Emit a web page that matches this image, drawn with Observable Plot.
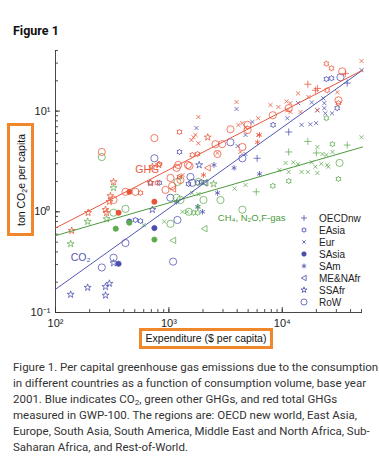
<!DOCTYPE html>
<html><head><meta charset="utf-8">
<script src="https://cdn.jsdelivr.net/npm/d3@7"></script>
<script src="https://cdn.jsdelivr.net/npm/@observablehq/plot@0.6"></script>
<style>
body{margin:0;background:#fff;}
#wrap{position:relative;width:379px;height:463px;overflow:hidden;font-family:Roboto,sans-serif;}
#title{position:absolute;left:13px;top:23px;font-weight:700;font-size:12.5px;color:#111;}
#chart{position:absolute;left:0;top:40px;}
sub{line-height:0;vertical-align:-0.3em;}
.box{position:absolute;border:3px solid #f0872b;box-sizing:border-box;background:#fff;}
#ylab{left:7px;top:123px;width:27px;height:113px;}
#ylab span{position:absolute;left:50%;top:50%;transform:translate(-50%,-50%) rotate(-90deg);white-space:nowrap;font:10.5px "Liberation Sans",Arial,sans-serif;color:#111;}
#xlab{left:139px;top:328px;width:134px;height:21px;font:10.5px "Liberation Sans",Arial,sans-serif;text-align:center;line-height:15px;color:#111;}
#legend{position:absolute;left:296px;top:212px;font:10px "Liberation Sans",Arial,sans-serif;color:#222;}
#legend .row{height:12px;display:flex;align-items:center;}
#legend svg{width:16px;height:12px;margin-right:7px;}
#caption{position:absolute;left:13px;top:359px;font-size:11.5px;line-height:16px;color:#333;white-space:nowrap;}
</style></head>
<body>
<div id="wrap">
  <div id="title">Figure 1</div>
  <div id="chart"></div>
  <div id="ylab" class="box"><span>ton CO<sub style="font-size:7px">2</sub>e per capita</span></div>
  <div id="xlab" class="box">Expenditure ($ per capita)</div>
  <div id="legend"></div>
  <div id="caption">Figure 1. Per capital greenhouse gas emissions due to the consumption<br>in different countries as a function of consumption volume, base year<br>2001. Blue indicates CO<sub style="font-size:8px">2</sub>, green other GHGs, and red total GHGs<br>measured in GWP-100. The regions are: OECD new world, East Asia,<br>Europe, South Asia, South America, Middle East and North Africa, Sub-<br>Saharan Africa, and Rest-of-World.</div>
</div>
<script>
// ---------- data ----------
const regions = ["OECDnw","EAsia","Eur","SAsia","SAm","ME&NAfr","SSAfr","RoW"];

// [region, expenditure $/capita, ton CO2e/capita]
const co2Points = [
 ["SSAfr",136,0.151],["SSAfr",192,0.177],["SSAfr",276,0.18],["SSAfr",299,0.194],["SSAfr",276,0.148],
 ["RoW",256,0.28],["RoW",325,0.35],["SSAfr",325,0.31],["SAsia",360,0.305],["RoW",414,0.49],
 ["SAsia",448,0.8],["EAsia",507,0.83],["EAsia",562,0.81],["SAsia",745,0.69],["RoW",1090,0.32],
 ["RoW",745,3.4],["EAsia",1240,3.93],["EAsia",1490,1.89],["EAsia",688,1.94],["EAsia",825,1.94],
 ["SSAfr",1850,2.92],["RoW",1550,2.22],["RoW",1610,1.94],["EAsia",1790,1.94],["EAsia",1940,1.98],
 ["RoW",1030,1.38],["SAm",1170,1.26],["SSAfr",715,1.05],["RoW",1190,0.83],["SAm",1980,1.0],
 ["SAm",1790,1.12],["SAm",2680,1.54],["ME&NAfr",2060,1.94],["SAm",2500,2.92],["SAm",3760,2.73],
 ["RoW",4450,3.4],["OECDnw",6000,3.4],["SAm",6300,2.38],["RoW",3490,4.9],["Eur",1750,6.8],
 ["Eur",3950,10.5],["Eur",4740,5.8],["Eur",4040,4.5],["Eur",5450,7.8],["EAsia",8300,7.3],
 ["OECDnw",11400,6.2],["Eur",14800,7.3],["Eur",17700,7.4],["Eur",19900,7.6],["Eur",11100,8.5],
 ["Eur",13800,12],["Eur",18200,12.2],["Eur",23000,13.4],["Eur",23500,12],["Eur",20400,10.2],
 ["Eur",23500,10.7],["Eur",24000,9.5],["Eur",27500,9.5],["EAsia",30500,10.7],["EAsia",24500,20.8],
 ["EAsia",27200,21.2],["RoW",32600,21.7],["OECDnw",37400,19],["Eur",50000,25.5],["Eur",4740,3.75]
];
const otherPoints = [
 ["SSAfr",136,0.48],["SSAfr",192,0.8],["SSAfr",282,0.85],["SSAfr",325,1.73],["RoW",256,3.5],
 ["RoW",325,0.98],["RoW",414,1.07],["SAsia",340,0.68],["SAsia",448,0.78],["SAsia",745,0.53],
 ["Eur",600,0.74],["Eur",910,0.8],["RoW",1033,0.76],["ME&NAfr",1090,0.52],["ME&NAfr",2060,0.68],
 ["Eur",1320,1.0],["Eur",1450,1.0],["EAsia",1650,0.98],["EAsia",1790,0.98],["RoW",1500,1.0],
 ["RoW",2020,1.31],["RoW",2850,1.31],["RoW",4450,1.05],["RoW",1170,1.38],["RoW",1820,1.98],
 ["ME&NAfr",2100,1.94],["SSAfr",2480,1.89],["EAsia",8250,1.81],["OECDnw",5900,1.58],["EAsia",11400,2.02],
 ["EAsia",31300,2.12],["RoW",32000,3.06],["Eur",9400,2.6],["Eur",10700,3.06],["Eur",11400,2.49],
 ["Eur",12500,3.1],["Eur",13800,2.98],["Eur",14800,2.49],["Eur",16800,2.49],["Eur",18200,3.1],
 ["Eur",19600,2.8],["Eur",20400,2.43],["Eur",22100,3.0],["Eur",24900,2.92],["Eur",25500,2.8],
 ["Eur",20400,4.4],["Eur",22600,3.75],["Eur",24500,3.67],["Eur",27700,3.93],["OECDnw",16800,5.0],
 ["OECDnw",11400,3.93],["OECDnw",20000,3.84],["OECDnw",37400,4.6],["EAsia",27700,4.7],["EAsia",24500,8.5],
 ["Eur",50000,5.5],["SAm",1820,1.12],["RoW",1265,1.31],["Eur",4740,1.85],["Eur",3800,1.7],
 ["Eur",1600,1.54],["Eur",1820,1.5],["Eur",1265,2.2],["RoW",1190,1.98]
];
const ghgPoints = [
 ["SSAfr",139,0.65],["SSAfr",194,0.98],["SSAfr",276,1.05],["SSAfr",282,0.98],["SSAfr",299,1.26],
 ["SSAfr",305,1.44],["SSAfr",325,1.98],["RoW",256,3.93],["RoW",325,1.31],["SAsia",360,0.98],
 ["RoW",414,1.58],["SAsia",448,1.58],["RoW",507,1.58],["EAsia",562,1.54],["SAsia",745,1.26],
 ["RoW",745,5.4],["EAsia",1240,6.2],["EAsia",825,2.98],["RoW",1170,2.73],["RoW",1520,2.85],
 ["SSAfr",688,1.94],["EAsia",790,1.94],["RoW",1033,2.17],["SSAfr",715,2.8],["SSAfr",815,2.92],
 ["RoW",1210,2.92],["RoW",1470,2.92],["EAsia",1610,3.67],["EAsia",1790,3.75],["EAsia",1240,2.22],
 ["RoW",1265,2.07],["Eur",1320,2.32],["ME&NAfr",1090,1.69],["ME&NAfr",2200,2.73],["RoW",1070,1.81],
 ["RoW",933,1.65],["RoW",2680,3.75],["Eur",1820,8.75],["Eur",1650,5.5],["Eur",1716,5.8],
 ["Eur",1580,5.16],["SSAfr",2200,5.5],["Eur",1820,4.8],["RoW",3490,6.6],["Eur",4100,7.27],
 ["Eur",4450,7.6],["Eur",4740,6.9],["Eur",3950,12.3],["RoW",2575,4.7],["RoW",2950,4.7],
 ["Eur",2680,3.84],["Eur",4280,3.93],["RoW",4450,4.4],["SAm",2020,2.32],["SAm",6050,4.9],
 ["SAm",6300,5.8],["RoW",4950,7.3],["RoW",4950,6.5],["Eur",6140,8.5],["Eur",6140,5.8],
 ["Eur",7870,11.5],["RoW",8250,9.1],["Eur",9250,11],["Eur",10900,12.5],["Eur",11800,12],
 ["RoW",11400,10.7],["Eur",11100,10.2],["Eur",11800,9.8],["Eur",14500,9.8],["Eur",13800,15],
 ["Eur",17000,13.8],["OECDnw",16800,18.5],["OECDnw",20400,16.8],["OECDnw",19600,16.1],["EAsia",24900,16.1],
 ["Eur",20400,10.2],["Eur",30600,15.4],["RoW",31300,12.8],["EAsia",31300,12],["RoW",33800,24.8],
 ["OECDnw",36000,23.7],["EAsia",24500,29.6],["EAsia",27200,26.6],["Eur",50000,31.4]
];

// fitted trend lines (end points)
const fitX = [100, 51000];
const co2Fit = [0.17, 25.5];
const otherFit = [0.58, 4.4];
const ghgFit = [0.69, 25.5];

// axes
const xDomain = [100, 51000];
const yDomain = [0.1, 40];
const xMajor = [100, 1000, 10000];
const xTickLabels = ["10²", "10³", "10⁴"];
const yMajor = [0.1, 1, 10];
const yTickLabels = ["10⁻¹", "10⁰", "10¹"];

// in-plot labels
const seriesLabels = [
  {gas: "GHG", text: "GHG", x: 505, y: 2.6},
  {gas: "CO2", text: "CO₂", x: 136, y: 0.35},
  {gas: "other", text: "CH₄, N₂O,F-gas", x: 2700, y: 0.87}
];

// ---------- styles ----------
const colors = {CO2: "#4a4eae", other: "#5cab4c", GHG: "#ea5236"};
const lineColors = {CO2: "#5257b3", other: "#4c9a3e", GHG: "#e8583f"};

const hexagram = {draw(ctx, size) {
  const R = Math.sqrt(size / Math.PI) * 1.25, r0 = R * 0.6;
  for (let i = 0; i < 12; i++) {
    const a = i * Math.PI / 6 - Math.PI / 2, rr = i % 2 ? r0 : R;
    const x = rr * Math.cos(a), y = rr * Math.sin(a);
    if (i) ctx.lineTo(x, y); else ctx.moveTo(x, y);
  }
  ctx.closePath();
}};
const triLeft = {draw(ctx, size) {
  const r = Math.sqrt(size / Math.PI) * 1.1;
  ctx.moveTo(-r, 0); ctx.lineTo(r * 0.8, -r); ctx.lineTo(r * 0.8, r); ctx.closePath();
}};
const regionStyle = {
  "OECDnw": {symbol: d3.symbolPlus, r: 2.4},
  "EAsia": {symbol: hexagram, r: 2.3},
  "Eur": {symbol: d3.symbolTimes, r: 2.0},
  "SAsia": {symbol: d3.symbolCircle, r: 2.6, filled: true},
  "SAm": {symbol: d3.symbolAsterisk, r: 2.7},
  "ME&NAfr": {symbol: triLeft, r: 2.9},
  "SSAfr": {symbol: d3.symbolStar, r: 2.2},
  "RoW": {symbol: d3.symbolCircle, r: 3.6}
};

function minorTicks(lo, hi) {
  const out = [];
  for (let k = Math.floor(Math.log10(lo)); k <= Math.ceil(Math.log10(hi)); k++)
    for (let m = 1; m <= 9; m++) { const v = m * Math.pow(10, k); if (v >= lo * 0.999 && v <= hi * 1.001) out.push(v); }
  return out;
}

const marks = [];
marks.push(Plot.axisX({ticks: minorTicks(...xDomain), tickSize: -3, tickFormat: () => "", label: null, strokeWidth: 0.8}));
marks.push(Plot.axisX({ticks: xMajor, tickSize: -5, tickFormat: () => "", label: null, strokeWidth: 0.8}));
marks.push(Plot.axisX({ticks: xMajor, tickSize: 0, tickPadding: 7, tickFormat: d => xTickLabels[xMajor.indexOf(d)], label: null, fontSize: 11}));
marks.push(Plot.axisY({ticks: minorTicks(...yDomain), tickSize: -3, tickFormat: () => "", label: null, strokeWidth: 0.8}));
marks.push(Plot.axisY({ticks: yMajor, tickSize: -5, tickFormat: () => "", label: null, strokeWidth: 0.8}));
marks.push(Plot.axisY({ticks: yMajor, tickSize: 0, tickPadding: 5, tickFormat: d => yTickLabels[yMajor.indexOf(d)], label: null, fontSize: 11}));
marks.push(Plot.ruleX([xDomain[0]], {stroke: "#333", strokeWidth: 0.9}));
marks.push(Plot.ruleY([yDomain[0]], {stroke: "#333", strokeWidth: 0.9}));

const gasSets = [["CO2", co2Points], ["other", otherPoints], ["GHG", ghgPoints]];
for (const [gas, pts] of gasSets) {
  for (const reg of regions) {
    const st = regionStyle[reg];
    marks.push(Plot.dot(pts.filter(p => p[0] === reg), {
      x: d => d[1], y: d => d[2], symbol: st.symbol, r: st.r,
      stroke: colors[gas], fill: st.filled ? colors[gas] : "none", strokeWidth: 0.75
    }));
  }
}
const fits = [["other", otherFit], ["CO2", co2Fit], ["GHG", ghgFit]];
for (const [gas, ys] of fits) {
  marks.push(Plot.line(fitX.map((x, i) => ({x, y: ys[i]})), {x: "x", y: "y", stroke: lineColors[gas], strokeWidth: 1}));
}
for (const lab of seriesLabels) {
  marks.push(Plot.text([lab], {x: "x", y: "y", text: "text", textAnchor: "start", fill: lineColors[lab.gas], fontSize: lab.gas === "other" ? 9.5 : 10.5}));
}

const chart = Plot.plot({
  width: 379, height: 302,
  marginLeft: 55, marginRight: 17, marginTop: 10, marginBottom: 30,
  x: {type: "log", domain: xDomain, axis: null},
  y: {type: "log", domain: yDomain, axis: null},
  style: {fontFamily: "'Liberation Sans', Arial, sans-serif", fontSize: "10px", background: "transparent", overflow: "visible", color: "#222"},
  marks
});
document.getElementById("chart").appendChild(chart);

// legend
const leg = document.getElementById("legend");
for (const reg of regions) {
  const st = regionStyle[reg];
  const rr = st.r * 0.85;
  const path = d3.symbol(st.symbol, Math.PI * rr * rr)();
  const row = document.createElement("div");
  row.className = "row";
  row.innerHTML = `<svg viewBox="-8 -6 16 12"><path d="${path}" stroke="${colors.CO2}" stroke-width="0.8" fill="${st.filled ? colors.CO2 : "none"}"/></svg><span></span>`;
  row.querySelector("span").textContent = reg;
  leg.appendChild(row);
}
</script>
</body></html>
